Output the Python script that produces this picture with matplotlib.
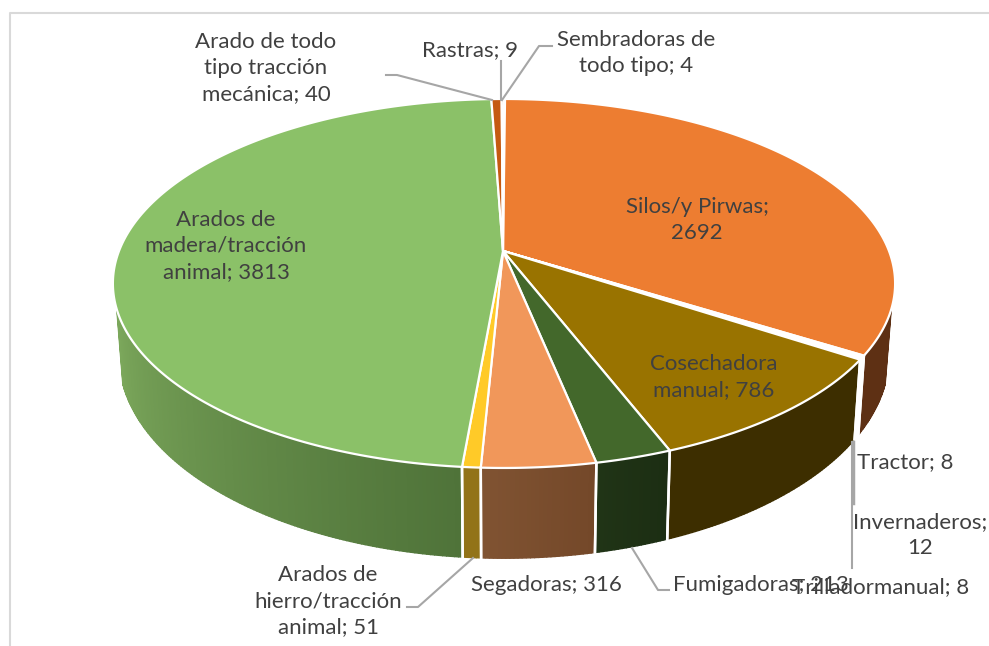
import numpy as np
import matplotlib
matplotlib.use("Agg")
import matplotlib.pyplot as plt
from matplotlib.colors import to_rgb

plt.rcParams['font.family'] = ['Lato', 'DejaVu Sans']

# clockwise from 12 o'clock
names = ["Sembradoras", "Silos", "Tractor", "Invernaderos", "Trillador", "Cosechadora",
         "Fumigadoras", "Segadoras", "Arados hierro", "Arados madera", "Arado todo", "Rastras"]
values = [4, 2692, 8, 12, 8, 786, 213, 316, 51, 3813, 40, 9]
top_colors = ["#fbe5d6", "#ed7d31", "#fff8ec", "#fff8ec", "#fff8ec", "#997300",
              "#43682b", "#f1975a", "#ffca28", "#8bc168", "#c55a11", "#d8641a"]
side_right = ["#a05a2c", "#5e3014", "#ffffff", "#ffffff", "#ffffff", "#3d2e00",
              "#1c2e13", "#744829", "#927318", "#4f7339", "#8a3f0c", "#8a3f0c"]
side_left = ["#a05a2c", "#5e3014", "#ffffff", "#ffffff", "#ffffff", "#3d2e00",
             "#203416", "#805332", "#927318", "#7ba75b", "#8a3f0c", "#8a3f0c"]

labels = ["Arado de todo\ntipo tracción\nmecánica; 40", "Rastras; 9", "Sembradoras de\ntodo tipo; 4",
          "Silos/y Pirwas;\n2692", "Cosechadora\nmanual; 786", "Arados de\nmadera/tracción\nanimal; 3813",
          "Tractor; 8", "Invernaderos;\n12", "Fumigadoras; 213", "Trilladormanual; 8",
          "Segadoras; 316", "Arados de\nhierro/tracción\nanimal; 51"]
label_x = [266, 470, 636, 697, 714, 226, 905, 920, 761, 881, 546, 328]
label_y = [68, 50, 53, 220, 377, 246, 462, 535, 585, 587, 585, 601]

leaders = [([386, 397, 492], [75, 75, 100], 1.5),
           ([501, 501], [61, 100], 1.5),
           ([502, 539, 552], [100, 46, 46], 1.5),
           ([853, 853], [442, 503], 2.5),
           ([852, 852], [442, 568], 1.5),
           ([632, 658, 669], [548, 590, 590], 1.5),
           ([473, 418, 407], [558, 607, 607], 1.5)]

# perspective of the disc, in pixels
cx = 504
k = 0.176


def rim(theta, a, y0, b):
    x = np.sin(theta)
    y = np.cos(theta)
    w = 1 + k * y
    return cx + a * x / w, (y0 - b * y) / w


def top_rim(theta):
    return rim(theta, 385, 251, 134.6)


def low_rim(theta):
    return rim(theta, 379, 320, 140)


fig = plt.figure(figsize=(9.89, 6.46), dpi=100)
ax = fig.add_axes([0, 0, 1, 1])
ax.set_xlim(0, 989)
ax.set_ylim(646, 0)
ax.axis('off')

# chart frame
ax.plot([10, 10, 989], [646, 13, 13], color="#d9d9d9", lw=1.5)

edges = np.cumsum([0] + values) / sum(values) * 2 * np.pi
side_from = np.radians(108)
side_to = np.radians(252)

# side wall
for i in range(len(values)):
    t0 = max(edges[i], side_from)
    t1 = min(edges[i + 1], side_to)
    if t1 <= t0:
        continue
    steps = np.linspace(t0, t1, max(2, int(np.degrees(t1 - t0) * 2) + 1))
    c_r = np.array(to_rgb(side_right[i]))
    c_l = np.array(to_rgb(side_left[i]))
    for j in range(len(steps) - 1):
        f = j / max(1, len(steps) - 2)
        col = c_r + (c_l - c_r) * f
        xa, ya = top_rim(steps[j:j + 2])
        xb, yb = low_rim(steps[j:j + 2])
        ax.fill(np.r_[xa, xb[::-1]], np.r_[ya, yb[::-1]], color=col, lw=1.0, zorder=2)
    for t in (t0, t1):
        if side_from < t < side_to:
            xa, ya = top_rim(t)
            xb, yb = low_rim(t)
            ax.plot([xa, xb], [ya, yb], color="white", lw=1.8, zorder=3)

# top face
for i in range(len(values)):
    t = np.linspace(edges[i], edges[i + 1], 200)
    x, y = top_rim(t)
    ax.fill(np.r_[cx - 1, x], np.r_[251, y], facecolor=top_colors[i], edgecolor="white",
            lw=1.6, joinstyle='round', zorder=4)

for lx, ly, lw in leaders:
    ax.plot(lx, ly, color="#a6a6a6", lw=lw, zorder=5)

for s, x, y in zip(labels, label_x, label_y):
    ax.text(x, y, s, ha='center', va='center', fontsize=16, color="#404040",
            linespacing=1.39, zorder=6)

fig.savefig("out.png", dpi=100)
